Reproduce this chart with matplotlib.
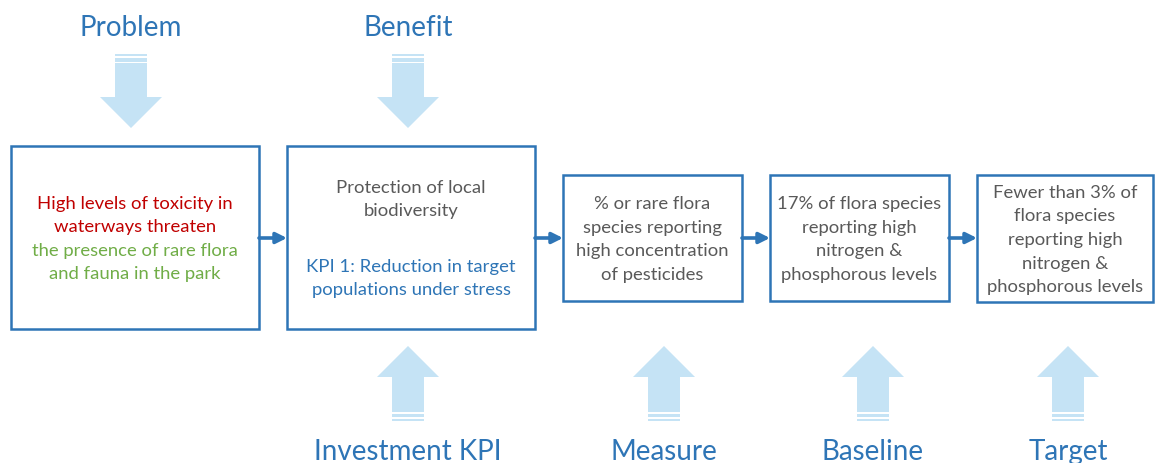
"""Investment KPI logic flow: problem -> benefit -> measure -> baseline -> target"""

import matplotlib.pyplot as plt
from matplotlib.patches import Polygon, Rectangle

plt.rcParams["font.family"] = ["Lato", "DejaVu Sans"]

BLUE = "#2E75B6"
GREY = "#595959"
RED = "#C00000"
GREEN = "#70AD47"
PALE = "#C5E3F5"

# labels above / below the flow
top_labels = ["Problem", "Benefit"]
bottom_labels = ["Investment KPI", "Measure", "Baseline", "Target"]

# box texts, one list of (line, colour) per box
box_texts = [
    [("High levels of toxicity in", RED), ("waterways threaten", RED),
     ("the presence of rare flora", GREEN), ("and fauna in the park", GREEN)],
    [("Protection of local", GREY), ("biodiversity", GREY), ("", GREY),
     ("KPI 1: Reduction in target", BLUE), ("populations under stress", BLUE)],
    [("% or rare flora", GREY), ("species reporting", GREY),
     ("high concentration", GREY), ("of pesticides", GREY)],
    [("17% of flora species", GREY), ("reporting high", GREY),
     ("nitrogen &", GREY), ("phosphorous levels", GREY)],
    [("Fewer than 3% of", GREY), ("flora species", GREY),
     ("reporting high", GREY), ("nitrogen &", GREY),
     ("phosphorous levels", GREY)],
]

# layout in pixels (x0, x1, y0, y1)
boxes = [(11, 259, 146, 329), (287, 535, 146, 329),
         (563, 742, 175, 301), (770, 949, 175, 301), (977, 1153, 175, 302)]
top_x = [131, 408]
bottom_x = [408, 664, 873, 1068]
flow_y = 238
line_gap = 23.5
blank_gap = 32


def fat_arrow(ax, cx, tip, base, end, down=True):
    # block arrow with two thin stripes at its tail
    hw, sw = 31, 16
    s = 1 if down else -1
    head = [(cx - hw, base), (cx + hw, base), (cx, tip)]
    shaft_end = end + s * 9
    shaft = [(cx - sw, base), (cx + sw, base), (cx + sw, shaft_end), (cx - sw, shaft_end)]
    ax.add_patch(Polygon(head, closed=True, fc=PALE, ec="none"))
    ax.add_patch(Polygon(shaft, closed=True, fc=PALE, ec="none"))
    for a, b in [(end + s * 4, end + s * 7.5), (end, end + s * 2)]:
        ax.add_patch(Rectangle((cx - sw, min(a, b)), 2 * sw, abs(b - a), fc=PALE, ec="none"))


fig = plt.figure(figsize=(11.55, 4.63), dpi=100)
ax = fig.add_axes([0, 0, 1, 1])
ax.set_xlim(0, 1155)
ax.set_ylim(463, 0)
ax.axis("off")

for (x0, x1, y0, y1), lines in zip(boxes, box_texts):
    ax.add_patch(Rectangle((x0, y0), x1 - x0, y1 - y0, fc="white", ec=BLUE, lw=1.8))
    # stack the lines; the line after a blank one gets a taller gap
    pos, y = [], 0.0
    for i, (txt, _) in enumerate(lines):
        if i > 0:
            y += blank_gap if lines[i - 1][0] == "" else line_gap
        pos.append(y)
    shift = (y0 + y1) / 2 + 1.5 - (pos[0] + pos[-1]) / 2
    for (txt, col), p in zip(lines, pos):
        if txt:
            ax.text((x0 + x1) / 2, p + shift, txt, color=col, fontsize=13.3,
                    ha="center", va="center")

# connectors between boxes
for (a, b) in zip(boxes[:-1], boxes[1:]):
    ax.annotate("", xy=(b[0], flow_y), xytext=(a[1], flow_y),
                arrowprops=dict(arrowstyle="-|>", color=BLUE, lw=2.6,
                                mutation_scale=16, shrinkA=0, shrinkB=0))

for lab, x in zip(top_labels, top_x):
    ax.text(x, 28, lab, color=BLUE, fontsize=20, ha="center", va="center")
    fat_arrow(ax, x, tip=128, base=97, end=54, down=True)

for lab, x in zip(bottom_labels, bottom_x):
    ax.text(x, 452, lab, color=BLUE, fontsize=20, ha="center", va="center")
    fat_arrow(ax, x, tip=346, base=377, end=421, down=False)

fig.savefig("out.png", dpi=100, facecolor="white")
